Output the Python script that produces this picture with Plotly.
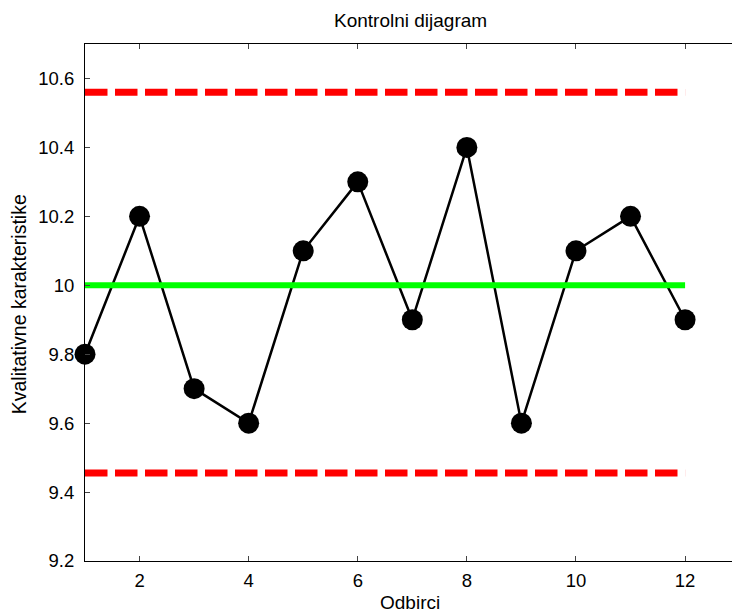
import plotly.graph_objects as go

samples = list(range(1, 13))
values = [9.8, 10.2, 9.7, 9.6, 10.1, 10.3, 9.9, 10.4, 9.6, 10.1, 10.2, 9.9]
center = 10.0
ucl = 10.56
lcl = 9.455
x_ticks = [2, 4, 6, 8, 10, 12]
y_ticks = [9.2, 9.4, 9.6, 9.8, 10.0, 10.2, 10.4, 10.6]
y_tick_text = ["9.2", "9.4", "9.6", "9.8", "10", "10.2", "10.4", "10.6"]

FONT = "Liberation Sans, Arial, sans-serif"

fig = go.Figure()
fig.add_trace(go.Scatter(
    x=samples, y=values, mode="lines+markers",
    line=dict(color="black", width=2.5),
    marker=dict(color="black", size=21, line=dict(width=0)),
    showlegend=False, cliponaxis=False,
))
fig.add_trace(go.Scatter(
    x=[samples[0], samples[-1]], y=[center, center], mode="lines",
    line=dict(color="#00ff00", width=6), showlegend=False,
))
fig.add_trace(go.Scatter(
    x=[samples[0], samples[-1]], y=[ucl, ucl], mode="lines",
    line=dict(color="#ff0000", width=7, dash="22.5px,7.5px"), showlegend=False,
))
fig.add_trace(go.Scatter(
    x=[samples[0], samples[-1]], y=[lcl, lcl], mode="lines",
    line=dict(color="#ff0000", width=7, dash="22.5px,7.5px"), showlegend=False,
))

fig.update_layout(
    width=732, height=612,
    margin=dict(l=85, r=0, t=43.5, b=51),
    paper_bgcolor="white", plot_bgcolor="white",
    font=dict(family=FONT, color="black"),
    xaxis=dict(
        range=[1, 12.86], tickvals=x_ticks, ticks="inside", ticklen=5,
        tickcolor="#444", tickwidth=1, showline=True, linecolor="black",
        linewidth=1, mirror="ticks", showgrid=False, zeroline=False,
        ticklabelstandoff=3,
        tickfont=dict(size=18.5, family=FONT, color="black"),
    ),
    yaxis=dict(
        range=[9.2, 10.7], tickvals=y_ticks, ticktext=y_tick_text,
        ticks="inside", ticklen=5, tickcolor="#444", tickwidth=1,
        showline=True, linecolor="black", linewidth=1, mirror=False,
        showgrid=False, zeroline=False, ticklabelstandoff=6,
        tickfont=dict(size=18.5, family=FONT, color="black"),
    ),
    annotations=[
        dict(text="Kontrolni dijagram", xref="paper", yref="paper",
             x=(410 - 85) / 647, y=1 + (43.5 - 20) / 517.5,
             xanchor="center", yanchor="middle", showarrow=False,
             font=dict(size=19, family=FONT, color="black")),
        dict(text="Odbirci", xref="paper", yref="paper",
             x=(410 - 85) / 647, y=-(603 - 561) / 517.5,
             xanchor="center", yanchor="middle", showarrow=False,
             font=dict(size=19, family=FONT, color="black")),
        dict(text="Kvalitativne karakteristike", xref="paper", yref="paper",
             x=-(85 - 19) / 647, y=(561 - 304) / 517.5, textangle=-90,
             xanchor="center", yanchor="middle", showarrow=False,
             font=dict(size=19.5, family=FONT, color="black")),
    ],
)

fig.write_html("out.html", config={"displayModeBar": False},
               post_script="document.body.style.margin='0';")
